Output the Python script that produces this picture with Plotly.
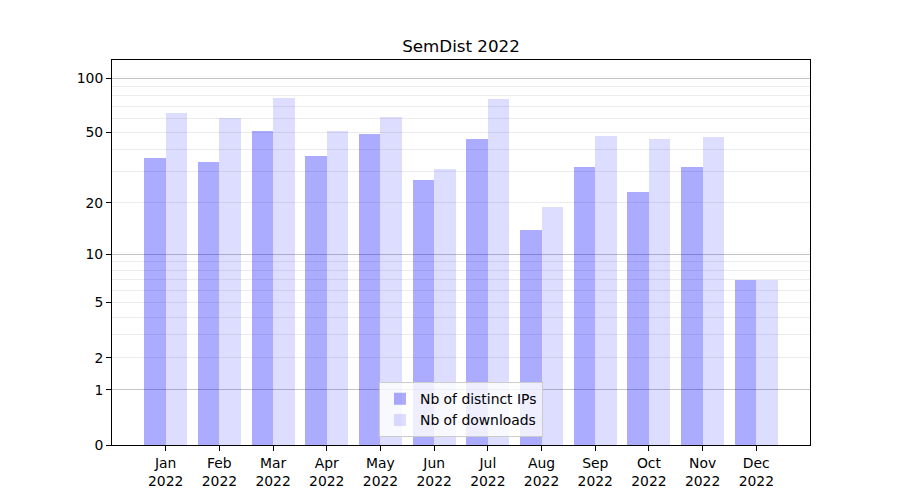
import numpy as np
import plotly.graph_objects as go

months = ["Jan", "Feb", "Mar", "Apr", "May", "Jun", "Jul", "Aug", "Sep", "Oct", "Nov", "Dec"]
year = "2022"
distinct_ips = [36, 34, 51, 37, 49, 27, 46, 14, 32, 23, 32, 7]
downloads = [64, 60, 78, 51, 61, 31, 77, 19, 48, 46, 47, 7]
y_tick_labels = [0, 1, 2, 5, 10, 20, 50, 100]
major_grid = [1, 10, 100]
minor_grid = [2, 3, 4, 5, 6, 7, 8, 9, 20, 30, 40, 50, 60, 70, 80, 90]


def tr(v):
    return np.log10(1 + np.asarray(v, dtype=float))


x = np.arange(len(months))
ticktext = [f"{m}<br>{year}" for m in months]

fig = go.Figure()
fig.add_trace(go.Bar(x=x - 0.2, y=tr(distinct_ips), width=0.4, name="Nb of distinct IPs",
                     marker=dict(color="rgba(0,0,255,0.33)", line=dict(width=0)),
                     customdata=distinct_ips, hovertemplate="%{customdata}<extra></extra>"))
fig.add_trace(go.Bar(x=x + 0.2, y=tr(downloads), width=0.4, name="Nb of downloads",
                     marker=dict(color="rgba(0,0,255,0.135)", line=dict(width=0)),
                     customdata=downloads, hovertemplate="%{customdata}<extra></extra>"))

yr = [0, 2.1026]
font = "DejaVu Sans, sans-serif"
fig.update_layout(
    width=900, height=500,
    margin=dict(l=104, r=98, t=52, b=63),
    plot_bgcolor="white", paper_bgcolor="white",
    font=dict(family=font, size=13.9, color="black"),
    title=dict(text="SemDist 2022", xref="paper", x=0.5, xanchor="center", y=0.924, yanchor="middle",
               font=dict(size=16.7, color="black")),
    bargap=0, barmode="overlay",
    xaxis=dict(range=[-1, 12], tickvals=list(x), ticktext=ticktext, showgrid=False,
               showline=True, linecolor="black", linewidth=1, mirror=True,
               ticks="outside", ticklen=5, tickcolor="black", zeroline=False),
    yaxis=dict(range=yr, tickvals=list(tr(y_tick_labels)), ticktext=[str(t) for t in y_tick_labels],
               showgrid=False, showline=True, linecolor="black", linewidth=1, mirror=True,
               ticks="outside", ticklen=5, tickcolor="black", zeroline=False,
               minor=dict(tickvals=list(tr(minor_grid)), showgrid=True, gridcolor="#ececec",
                          gridwidth=1, ticks="")),
    yaxis2=dict(range=yr, overlaying="y", tickvals=list(tr(major_grid)), showticklabels=False,
                showgrid=True, gridcolor="#c4c4c4", gridwidth=1, ticks="", zeroline=False,
                showline=False),
    legend=dict(x=0.5, xanchor="center", y=0.02, yanchor="bottom",
                bgcolor="rgba(255,255,255,0.8)", bordercolor="#cccccc", borderwidth=1,
                font=dict(size=13.9)),
)
# invisible trace to activate yaxis2
fig.add_trace(go.Scatter(x=[0], y=[0], yaxis="y2", mode="markers", marker=dict(opacity=0),
                         showlegend=False, hoverinfo="skip"))
fig.write_html("out.html")
